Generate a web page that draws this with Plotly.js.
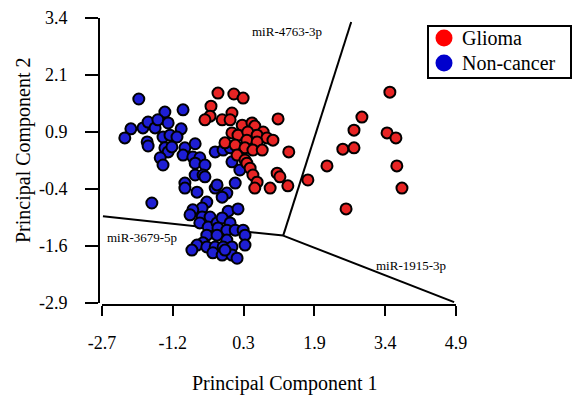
<!DOCTYPE html>
<html>
<head>
<meta charset="utf-8">
<script src="https://cdn.plot.ly/plotly-3.0.1.min.js"></script>
<style>html,body{margin:0;padding:0;background:#fff;}#chart{width:578px;height:398px;}</style>
</head>
<body>
<div id="chart"></div>
<script>
// ---- Data ----
var seriesNames = ['Glioma', 'Non-cancer'];

var gliomaPC1 = [-0.21, 0.13, 0.33, -0.36, -0.38, -0.49, -0.12, 0.09, 0.05, 1.08,
  0.31, 0.52, 0.58, 0.09, 0.22, 0.43, 0.76, 0.63, 0.84, 0.97,
  0.41, 0.63, -0.06, 0.16, 0.37, 0.54, 0.74, 1.31, 0.20, 0.37,
  0.41, 0.48, 1.06, 1.12, 0.54, 0.63, 0.58, 0.91, 1.29, 3.48,
  2.88, 2.71, 3.42, 3.61, 2.47, 2.71, 2.13, 3.63, 1.72, 3.74, 2.54];
var gliomaPC2 = [1.74, 1.72, 1.63, 1.45, 1.23, 1.15, 1.15, 1.30, 1.15, 1.17,
  1.03, 1.08, 1.01, 0.86, 0.81, 0.88, 0.88, 0.81, 0.75, 0.70,
  0.70, 0.66, 0.64, 0.59, 0.53, 0.48, 0.48, 0.44, 0.37, 0.26,
  0.19, 0.08, -0.03, -0.11, -0.07, -0.23, -0.36, -0.36, -0.31, 1.76,
  1.21, 0.92, 0.86, 0.75, 0.50, 0.53, 0.13, 0.13, -0.18, -0.36, -0.82];

var nonCancerPC1 = [-1.91, -0.96, -1.35, -2.08, -2.21, -1.82, -1.71, -1.56, -1.50, -1.28,
  -1.00, -1.39, -1.24, -1.09, -1.73, -1.71, -1.35, -1.28, -1.20, -1.45,
  -1.39, -0.92, -0.70, -0.96, -0.75, -0.60, -0.70, -0.49, -0.70, -0.53,
  -0.92, -1.63, -0.92, -0.66, -0.27, -0.02, -0.12, -0.45, -0.55, -0.75,
  -0.81, -0.55, -0.38, 0.01, 0.22, -0.60, -0.42, -0.23, -0.12, 0.05,
  -0.21, -0.02, 0.16, 0.33, 0.37, -0.45, -0.23, -0.02, -0.53, -0.66,
  -0.77, -0.45, -0.27, -0.10, 0.09, 0.37, -0.32, -0.12, 0.09, 0.20,
  -0.06, -0.27, -0.10, 0.05, 0.09, 0.26, 0.16, -0.23, -0.49];
var nonCancerPC2 = [1.61, 1.37, 1.32, 0.95, 0.75, 0.97, 1.10, 0.97, 1.15, 1.08,
  0.95, 0.77, 0.81, 0.77, 0.66, 0.57, 0.53, 0.44, 0.55, 0.31,
  0.15, 0.53, 0.62, 0.37, 0.33, 0.31, 0.19, 0.15, -0.07, -0.07,
  -0.25, -0.69, -0.36, -0.45, -0.36, -0.47, -0.56, -0.67, -0.80, -0.84,
  -0.95, -1.00, -1.00, -0.87, -0.82, -1.13, -1.22, -1.13, -1.02, -1.13,
  -1.24, -1.29, -1.29, -1.29, -1.40, -1.40, -1.40, -1.51, -1.57, -1.62,
  -1.73, -1.66, -1.66, -1.66, -1.66, -1.62, -1.79, -1.84, -1.84, -1.91,
  -1.73, 0.44, 0.48, 0.53, 0.22, 0.04, -0.25, -0.29, -0.11];

// Loading vectors (biplot lines)
var loadingNames = ['miR-4763-3p', 'miR-3679-5p', 'miR-1915-3p'];
var loadingOriginPC1 = 1.19;
var loadingOriginPC2 = -1.41;
var loadingEndPC1 = [2.65, -2.68, 4.86];
var loadingEndPC2 = [3.31, -0.98, -2.88];

// Axis ticks
var xTickVals = [-2.7, -1.18, 0.34, 1.86, 3.38, 4.9];
var xTickText = ['-2.7', '-1.2', '0.3', '1.9', '3.4', '4.9'];
var yTickVals = [3.4, 2.14, 0.88, -0.38, -1.64, -2.9];
var yTickText = ['3.4', '2.1', '0.9', '-0.4', '-1.6', '-2.9'];

// ---- Build ----
var FONT = '"Liberation Serif", "Times New Roman", Times, serif';
var redFill = 'rgb(232,36,36)';
var blueFill = 'rgb(30,30,212)';

var lx = [], ly = [];
for (var i = 0; i < loadingNames.length; i++) {
  lx.push(loadingOriginPC1, loadingEndPC1[i], null);
  ly.push(loadingOriginPC2, loadingEndPC2[i], null);
}

var traces = [
  {x: lx, y: ly, mode: 'lines', type: 'scatter', line: {color: 'black', width: 2},
   hoverinfo: 'skip', showlegend: false, cliponaxis: false},
  {x: nonCancerPC1, y: nonCancerPC2, name: seriesNames[1], mode: 'markers', type: 'scatter',
   marker: {size: 11, color: blueFill, line: {color: 'black', width: 2}}, cliponaxis: false},
  {x: gliomaPC1, y: gliomaPC2, name: seriesNames[0], mode: 'markers', type: 'scatter',
   marker: {size: 11, color: redFill, line: {color: 'black', width: 2}}, cliponaxis: false}
];

// pixel helpers for paper coords (plot area: left 99, width 357, bottom 305, height 287)
function px(x) { return (x - 99) / 357; }
function py(y) { return (305 - y) / 287; }

var annotations = [
  {text: 'Principal Component 1', xref: 'paper', yref: 'paper', x: px(285), y: py(383),
   xanchor: 'center', yanchor: 'middle', showarrow: false, font: {family: FONT, size: 20, color: 'black'}},
  {text: 'Principal Component 2', xref: 'paper', yref: 'paper', x: px(23), y: py(150),
   xanchor: 'center', yanchor: 'middle', textangle: -90, showarrow: false, font: {family: FONT, size: 20, color: 'black'}},
  {text: loadingNames[0], xref: 'x', yref: 'y', x: 0.48, y: 3.11, xanchor: 'left', yanchor: 'middle',
   showarrow: false, font: {family: FONT, size: 13, color: 'black'}},
  {text: loadingNames[1], xref: 'x', yref: 'y', x: -2.64, y: -1.46, xanchor: 'left', yanchor: 'middle',
   showarrow: false, font: {family: FONT, size: 13, color: 'black'}},
  {text: loadingNames[2], xref: 'x', yref: 'y', x: 3.14, y: -2.06, xanchor: 'left', yanchor: 'middle',
   showarrow: false, font: {family: FONT, size: 13, color: 'black'}},
  {text: seriesNames[0], xref: 'paper', yref: 'paper', x: px(460), y: py(38), xanchor: 'left', yanchor: 'middle',
   showarrow: false, font: {family: FONT, size: 20, color: 'black'}},
  {text: seriesNames[1], xref: 'paper', yref: 'paper', x: px(460), y: py(63), xanchor: 'left', yanchor: 'middle',
   showarrow: false, font: {family: FONT, size: 20, color: 'black'}}
];

var shapes = [
  {type: 'rect', xref: 'paper', yref: 'paper', x0: px(428), x1: px(571), y0: py(78), y1: py(26),
   line: {color: 'black', width: 2}, fillcolor: 'white'},
  {type: 'circle', xref: 'paper', yref: 'paper', x0: px(435.5), x1: px(452.5), y0: py(46.5), y1: py(29.5),
   line: {width: 0}, fillcolor: 'rgb(255,0,0)'},
  {type: 'circle', xref: 'paper', yref: 'paper', x0: px(435.5), x1: px(452.5), y0: py(71.5), y1: py(54.5),
   line: {width: 0}, fillcolor: 'rgb(0,0,204)'}
];

var axisCommon = {
  showline: true, linecolor: 'black', linewidth: 2, ticks: 'outside', tickwidth: 2, tickcolor: 'black',
  showgrid: false, zeroline: false, tickfont: {family: FONT, size: 18, color: 'black'},
  anchor: 'free', position: 0, fixedrange: true
};

var layout = {
  width: 578, height: 398,
  margin: {l: 99, r: 122, t: 18, b: 93, pad: 0},
  paper_bgcolor: 'white', plot_bgcolor: 'white',
  showlegend: false,
  xaxis: Object.assign({}, axisCommon, {
    range: [-2.7, 4.9], domain: [3 / 357, 1], ticklen: 10, ticklabelstandoff: 11,
    tickmode: 'array', tickvals: xTickVals, ticktext: xTickText
  }),
  yaxis: Object.assign({}, axisCommon, {
    range: [-2.9, 3.4], domain: [2 / 287, 1], ticklen: 13, ticklabelstandoff: 14,
    tickmode: 'array', tickvals: yTickVals, ticktext: yTickText
  }),
  annotations: annotations,
  shapes: shapes
};

Plotly.newPlot('chart', traces, layout, {staticPlot: true, displayModeBar: false});
</script>
</body>
</html>
